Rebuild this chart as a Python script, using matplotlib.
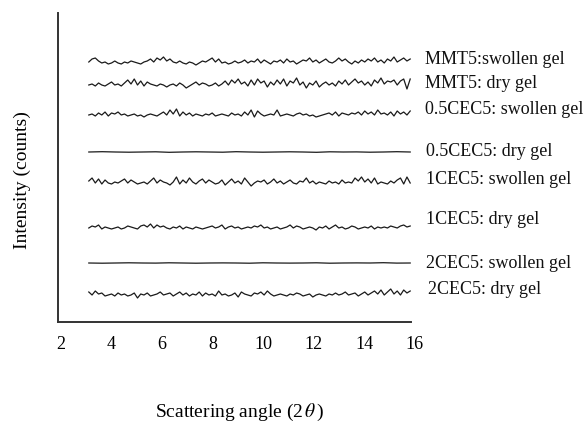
import numpy as np
import matplotlib
matplotlib.use("Agg")
import matplotlib.pyplot as plt

plt.rcParams["font.family"] = ["Liberation Serif", "DejaVu Serif"]
plt.rcParams["mathtext.fontset"] = "stix"

# scan range (2 theta) and stacked XRD traces, intensity in arbitrary counts
two_theta_start, two_theta_end = 3.1, 15.83

mmt5_swollen = [0, 3, 4, 1, -1, 0, -2, -1, 1, -1, -2, 0, -1, 1, 0, -1, -2, 0, 1, 3,
                0, 4, 2, 5, 1, 3, 0, -1, 1, -1, -2, 0, -1, -3, -1, 1, 0, 2, 4, 0,
                3, -1, 0, -2, -1, 1, -1, 0, 2, -1, 1, 0, 3, -1, 2, 0, -2, 1, 0, 2,
                -1, 3, 0, 1, -2, 0, 2, 1, 4, 0, 2, -1, 1, 3, 0, -1, 1, 4, 1, 3,
                0, -2, 1, -1, 2, 0, 3, 1, 4, 0, 2, -1, 3, 1, 5, 0, 2, 4, 1, 3]
mmt5_dry = [0, 1, -1, 2, 0, -1, 1, 3, 0, 1, -1, 2, 5, 1, 6, 0, 4, -1, 3, 1,
            0, -1, 1, 0, -2, 0, 1, -1, 2, 0, -3, -1, 1, 3, 0, 2, 1, -1, 0, 2,
            -1, 1, 4, 0, 5, 2, 6, 1, 3, -1, 5, 0, 6, 2, 4, -2, 3, 0, 5, 1,
            6, -1, 4, 2, 7, 0, 3, -3, 2, 0, 4, -2, 1, 3, 0, 2, -1, 4, 1, 5,
            0, 3, 6, 2, 4, 0, 3, -1, 5, 2, 7, 1, 4, 3, 5, 0, 4, 6, -4, 6]
cec05_swollen = [0, 1, -1, 2, 0, 3, -1, 2, 1, 3, 0, 1, -1, 0, 1, -1, 0, -2, 0, 1,
                 0, -1, 1, 3, 0, 5, 1, 6, -1, 3, 0, 2, -1, 1, 0, -1, 1, 0, 2, -1,
                 0, 1, 0, -1, 2, 0, 1, -1, 3, 0, 5, -2, 4, 1, -1, 0, 1, 0, 5, -1,
                 0, 1, 0, -1, 1, 2, 0, 1, -1, 0, -2, -1, 0, 1, 2, 0, 3, -1, 2, 1,
                 0, 2, 1, 3, 0, 4, 1, 3, 0, 5, 1, 2, 0, 3, -1, 4, 1, 3, 0, 4]
cec05_dry = [0, 0.3, 0, -0.2, 0, 0.2, -0.3, 0, 0.2, 0, -0.2, 0.3, 0, -0.2, 0,
             0.2, 0, -0.3, 0.2, 0, 0.1, -0.2, 0, 0.3, 0]
cec1_swollen = [2, 5, 0, 4, -1, 3, 0, -1, 1, 0, 2, 4, 0, 3, 1, -1, 0, 1, -1, 2,
                5, 0, 3, 1, 0, -2, 1, 6, -1, 3, 0, 5, 1, -1, 2, 4, 0, 3, 1, -1,
                0, 3, -2, 1, 4, 0, 2, -1, 5, 1, -3, 0, 2, 1, 3, -1, 1, 4, 0, 2,
                -1, 1, 3, 0, -1, 2, 1, 5, 0, 2, -1, 1, 0, -1, 2, 0, 1, -1, 3, 0,
                1, 0, 5, 2, 6, 1, 4, 0, 5, -1, 1, 0, -1, 2, 0, 3, 5, -1, 6, 0]
cec1_dry = [0, 2, 1, 3, -1, 1, 0, -1, 0, 1, -1, 0, 2, 1, 0, -1, 2, 3, 1, 4,
            0, 3, 1, 2, 0, -1, 1, 0, 2, -1, 1, 0, -1, 1, 0, -1, 0, 1, 2, 0,
            1, 3, -1, 1, 2, 0, 1, -1, 0, 1, 0, 2, 1, 3, 0, 1, -1, 0, 1, -1,
            0, 1, 3, 0, 2, 1, -1, 0, 1, 0, -2, 1, 0, 2, -1, 1, 3, 0, 1, -1,
            0, 2, 1, -1, 0, 1, 0, 2, -1, 1, 0, 1, 0, 2, 1, 0, 2, 3, 1, 2]
cec2_swollen = [0, -0.2, 0, 0.2, 0, -0.1, 0.2, 0, -0.2, 0, 0.1, 0, -0.2, 0.2, 0,
                -0.1, 0, 0.2, -0.2, 0, 0.1, 0, 0.3, -0.1, 0]
cec2_dry = [3, 0, 4, 1, 2, -1, 0, 1, -1, 2, 0, 1, -1, 0, 2, -3, 1, 0, 2, -1,
            0, 1, 3, 0, 1, 2, -1, 1, 3, 0, 2, -1, 1, 0, 3, -1, 2, 0, 1, -1,
            4, 0, 1, -1, 0, 2, -2, 3, 1, 0, -1, 2, 1, 3, 0, 4, 1, -1, 0, 1,
            0, -1, 1, 0, 2, 1, -1, 0, 1, -2, 0, 1, 0, -1, 1, 0, 2, 0, 1, 3,
            0, 1, 2, -1, 1, 3, 0, 2, 4, 1, 5, 0, 3, 6, 1, 4, 0, 5, 2, 4]

series = [mmt5_swollen, mmt5_dry, cec05_swollen, cec05_dry,
          cec1_swollen, cec1_dry, cec2_swollen, cec2_dry]
labels = ["MMT5:swollen gel", "MMT5: dry gel", "0.5CEC5: swollen gel", "0.5CEC5: dry gel",
          "1CEC5: swollen gel", "1CEC5: dry gel", "2CEC5: swollen gel", "2CEC5: dry gel"]
# vertical stacking offsets for each trace and where its label sits
offsets = [260, 237, 207, 170, 139, 94, 59, 27]
label_y = [262, 239, 212, 170, 142, 102, 59, 32]
label_x = [16.4, 16.4, 16.4, 16.45, 16.45, 16.45, 16.45, 16.55]
xticks = [2, 4, 6, 8, 10, 12, 14, 16]

fig = plt.figure(figsize=(5.88, 4.26), dpi=100)
ax = fig.add_axes([58 / 588, 104 / 426, 357 / 588, 309 / 426])

for vals, off in zip(series, offsets):
    x = np.linspace(two_theta_start, two_theta_end, len(vals))
    ax.plot(x, np.array(vals) + off, color="#1a1a1a", linewidth=0.9)

for txt, lx, ly in zip(labels, label_x, label_y):
    ax.text(lx, ly, txt, fontsize=13, ha="left", va="center", clip_on=False, color="#111111")

ax.set_xlim(1.88, 16.02)
ax.set_ylim(0, 309)
ax.spines["bottom"].set_bounds(1.88, 15.88)
ax.spines["top"].set_visible(False)
ax.spines["right"].set_visible(False)
for s in ("left", "bottom"):
    ax.spines[s].set_linewidth(1.4)
    ax.spines[s].set_color("#333333")
ax.set_xticks(xticks)
ax.set_yticks([])
ax.tick_params(axis="x", length=0, pad=10, labelsize=13)

fig.text(240 / 588, 1 - 412 / 426, "Scattering angle (2$\\,\\theta\\,$)", fontsize=14,
         ha="center", va="center")
fig.text(22 / 588, 1 - 180 / 426, "Intensity (counts)", fontsize=14, rotation=90,
         ha="center", va="center")

fig.savefig("out.png", dpi=100)
